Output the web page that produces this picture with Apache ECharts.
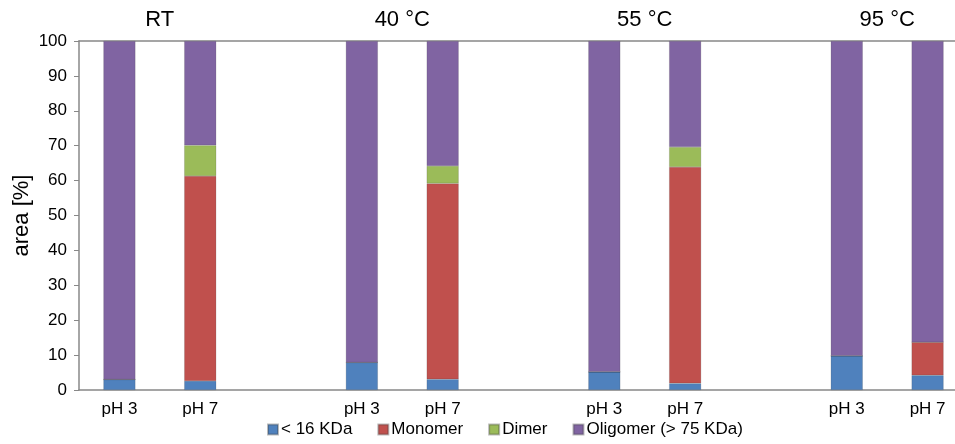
<!DOCTYPE html>
<html>
<head>
<meta charset="utf-8">
<script src="https://cdn.jsdelivr.net/npm/echarts@6/dist/echarts.min.js"></script>
<style>
  html, body { margin: 0; padding: 0; background: #fff; }
  #chart { width: 955px; height: 444px; }
</style>
</head>
<body>
<div id="chart"></div>
<script>
// Categorías (las vacías separan los grupos de temperatura)
const categories = ['pH 3', 'pH 7', '', 'pH 3', 'pH 7', '', 'pH 3', 'pH 7', '', 'pH 3', 'pH 7'];

// Etiquetas de grupo arriba del gráfico
const groupLabels = ['RT', '40 °C', '55 °C', '95 °C'];

// Valores de cada fracción (%), null = categoría vacía
const small16 = [3.0, 2.6, null, 7.9, 3.1, null, 5.2, 1.9, null, 9.8, 4.2];
const monomer = [0, 58.7, null, 0, 56.1, null, 0, 62.0, null, 0, 9.5];
const dimer = [0, 8.8, null, 0, 5.0, null, 0, 5.7, null, 0, 0];
const oligomer = [97.0, 29.9, null, 92.1, 35.8, null, 94.8, 30.4, null, 90.2, 86.3];

const seriesNames = ['< 16 KDa', 'Monomer', 'Dimer', 'Oligomer (> 75 KDa)'];
const colors = ['#4F81BD', '#C0504D', '#9BBB59', '#8064A2'];

const fontFamily = 'Liberation Sans, Arial, sans-serif';

const chart = echarts.init(document.getElementById('chart'));

// Construir las series apiladas
const seriesData = [small16, monomer, dimer, oligomer];
const series = seriesData.map((values, i) => ({
    name: seriesNames[i],
    type: 'bar',
    stack: 'total',
    barWidth: 32,
    xAxisIndex: 0,
    data: values.map(v => (v === null ? '-' : v)),
    itemStyle: {
        color: colors[i],
        borderColor: 'rgba(60,60,60,0.35)',
        borderWidth: 0.5,
    },
}));

const option = {
    backgroundColor: '#fff',
    animation: false,
    textStyle: { fontFamily: fontFamily },
    grid: {
        left: 79,
        width: 889,
        top: 41,
        bottom: 54,
        containLabel: false,
        outerBoundsMode: 'none',
    },
    legend: {
        bottom: 1,
        left: 262,
        itemWidth: 10,
        itemHeight: 10,
        itemGap: 25,
        icon: 'rect',
        textStyle: { fontSize: 17, color: '#000', fontFamily: fontFamily, padding: [0, 0, 0, -2] },
        data: seriesNames,
    },
    xAxis: [
        {
            type: 'category',
            data: categories,
            position: 'bottom',
            axisLine: { lineStyle: { color: '#888', width: 1.5 } },
            axisTick: { show: false },
            axisLabel: { fontSize: 17, color: '#000', margin: 11 },
        },
        {
            // Eje superior para las etiquetas de grupo
            type: 'value',
            position: 'top',
            min: 0,
            max: 11,
            interval: 1,
            axisLine: { show: true, lineStyle: { color: '#888', width: 1.5 } },
            axisTick: { show: false },
            splitLine: { show: false },
            axisLabel: {
                fontSize: 22,
                color: '#000',
                margin: 10,
                formatter: v => {
                    const idx = [1, 4, 7, 10].indexOf(v);
                    return idx >= 0 ? groupLabels[idx] : '';
                },
            },
        },
    ],
    yAxis: {
        type: 'value',
        min: 0,
        max: 100,
        interval: 10,
        name: 'area [%]',
        nameLocation: 'middle',
        nameGap: 46,
        nameMoveOverlap: false,
        nameRotate: 90,
        nameTextStyle: { fontSize: 22, color: '#000' },
        axisLine: { show: true, lineStyle: { color: '#888', width: 1.5 } },
        axisTick: { show: true, length: 5, lineStyle: { color: '#888' } },
        splitLine: { show: false },
        axisLabel: { fontSize: 17, color: '#000', margin: 12 },
    },
    series: series,
};

chart.setOption(option);
</script>
</body>
</html>
